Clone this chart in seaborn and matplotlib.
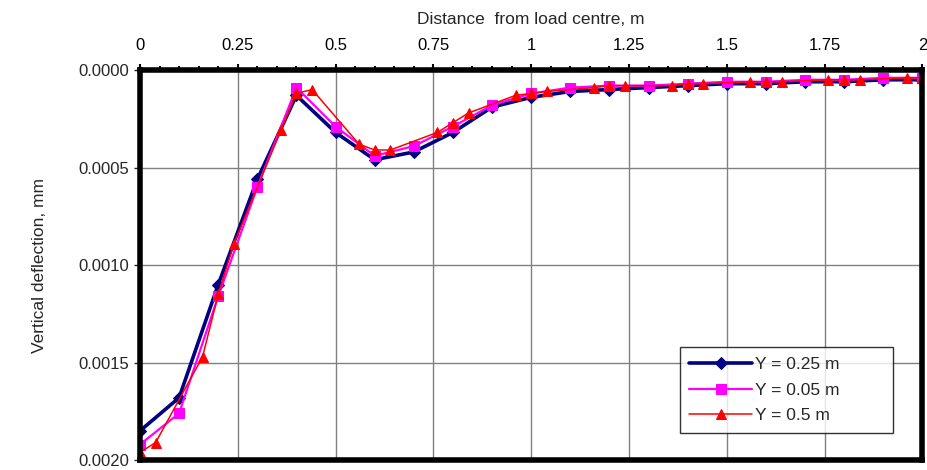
import numpy as np
import pandas as pd
import matplotlib
matplotlib.use("Agg")
import matplotlib.pyplot as plt
import seaborn as sns
from matplotlib.ticker import MultipleLocator, FuncFormatter

# distance from load centre, m
x_mid = [0.0, 0.1, 0.2, 0.3, 0.4, 0.5, 0.6, 0.7, 0.8, 0.9, 1.0,
         1.1, 1.2, 1.3, 1.4, 1.5, 1.6, 1.7, 1.8, 1.9, 2.0]
x_edge = [0.0, 0.04, 0.16, 0.2, 0.24, 0.36, 0.4, 0.44, 0.56, 0.6, 0.64,
          0.76, 0.8, 0.84, 0.96, 1.0, 1.04, 1.16, 1.2, 1.24, 1.36, 1.4,
          1.44, 1.56, 1.6, 1.64, 1.76, 1.8, 1.84, 1.96, 2.0]

# vertical deflection, mm
defl_025 = [0.00185, 0.00168, 0.00110, 0.00056, 0.00013, 0.00032, 0.00046,
            0.00042, 0.00032, 0.00019, 0.00014, 0.00011, 0.00010, 0.00009,
            0.00008, 0.00007, 0.00007, 0.00006, 0.00006, 0.00005, 0.00005]
defl_005 = [0.00192, 0.00176, 0.00116, 0.00060, 0.00009, 0.00029, 0.00044,
            0.00039, 0.00029, 0.00018, 0.00012, 0.00009, 0.00008, 0.00008,
            0.00007, 0.00006, 0.00006, 0.00005, 0.00005, 0.00004, 0.00004]
defl_05 = [0.00196, 0.00191, 0.00147, 0.00115, 0.00089, 0.00031, 0.00012,
           0.00010, 0.00038, 0.00041, 0.00041, 0.00032, 0.00027, 0.00022,
           0.00013, 0.00012, 0.00011, 0.00009, 0.00008, 0.00008, 0.00008,
           0.00007, 0.00007, 0.00006, 0.00006, 0.00006, 0.00005, 0.00005,
           0.00005, 0.00004, 0.00004]

labels = ["Y = 0.25 m", "Y = 0.05 m", "Y = 0.5 m"]

sns.set_style("white")
plt.rcParams["font.family"] = ["Liberation Sans", "DejaVu Sans"]

fig = plt.figure(figsize=(9.27, 4.70), dpi=100)
ax = fig.add_axes([0.151, 0.021, 0.844, 0.830])

sns.lineplot(x=x_mid, y=defl_025, ax=ax, color="#000080", lw=2.6,
             marker="D", markersize=6, markeredgecolor="#000080",
             label=labels[0], sort=False)
sns.lineplot(x=x_mid, y=defl_005, ax=ax, color="#FF00FF", lw=1.6,
             marker="s", markersize=7, markeredgecolor="#FF00FF",
             label=labels[1], sort=False)
sns.lineplot(x=x_edge, y=defl_05, ax=ax, color="#FF0000", lw=1.1,
             marker="^", markersize=7, markeredgecolor="#FF0000",
             label=labels[2], sort=False)

ax.set_xlim(0, 2)
ax.set_ylim(0.002, 0)
ax.xaxis.set_major_locator(MultipleLocator(0.25))
ax.xaxis.set_minor_locator(MultipleLocator(0.05))
ax.yaxis.set_major_locator(MultipleLocator(0.0005))
ax.xaxis.set_major_formatter(FuncFormatter(lambda v, p: f"{v:g}"))
ax.yaxis.set_major_formatter(FuncFormatter(lambda v, p: f"{v:.4f}"))
ax.xaxis.tick_top()
ax.xaxis.set_label_position("top")
ax.tick_params(axis="x", which="major", direction="out", length=4, width=1.5,
               labelsize=12, pad=8, colors="black")
ax.tick_params(axis="x", which="minor", direction="out", length=3, width=1.5,
               colors="black")
ax.tick_params(axis="y", which="major", direction="out", length=4, width=1,
               labelsize=12, pad=4, left=True)

ax.grid(True, which="major", color="#808080", lw=1)
for s in ax.spines.values():
    s.set_color("black")
    s.set_linewidth(4)

ax.set_xlabel("Distance  from load centre, m", fontsize=12.5, labelpad=10)
ax.set_ylabel("Vertical deflection, mm", fontsize=12.5, labelpad=22)

leg = ax.legend(loc="lower left", bbox_to_anchor=(0.69, 0.07, 0.273, 0.265),
                mode="expand", fontsize=12.5, frameon=True, fancybox=False,
                handlelength=3.6, borderpad=0.55, labelspacing=0.6,
                handletextpad=0.2, borderaxespad=0)
leg.get_frame().set_edgecolor("black")
leg.get_frame().set_linewidth(1)

fig.savefig("out.png", dpi=100)
